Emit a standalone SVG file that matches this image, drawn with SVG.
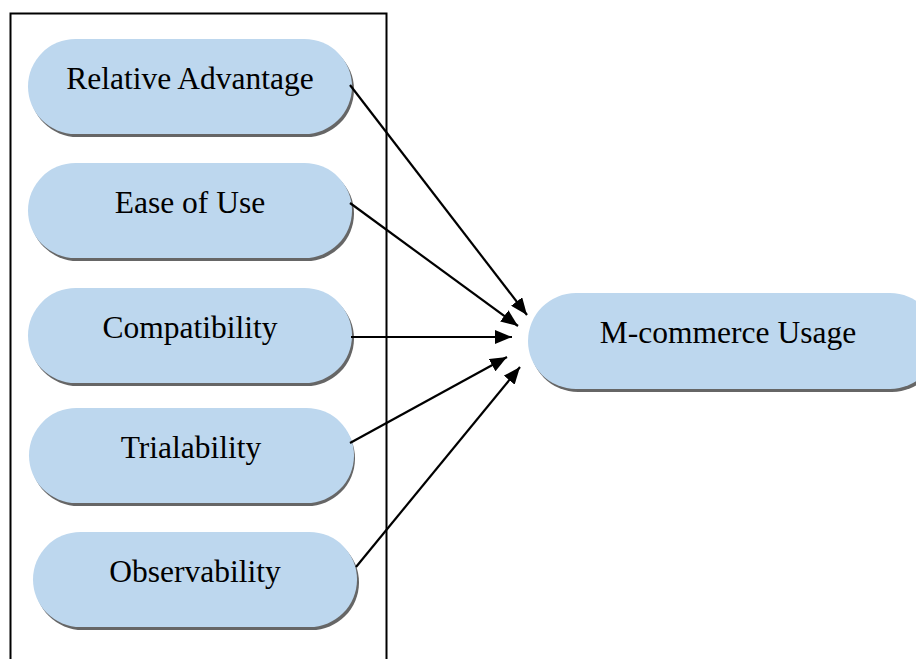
<svg xmlns="http://www.w3.org/2000/svg" width="916" height="659" viewBox="0 0 916 659">
  <style>
    .pill { fill: #bdd7ee; }
    .shadow { fill: #666666; }
    .label { font-family: "Liberation Serif", "Times New Roman", serif; font-size: 31.5px; fill: #000; text-anchor: middle; }
    .edge { stroke: #000; stroke-width: 2.2; fill: none; marker-end: url(#arrow); }
  </style>
  <defs>
    <marker id="arrow" markerUnits="userSpaceOnUse" markerWidth="18" markerHeight="14" refX="17" refY="7" orient="auto">
      <path d="M0,0 L17,7 L0,14 z" fill="#000"/>
    </marker>
  </defs>
  <rect width="916" height="659" fill="#fff"/>

  <!-- enclosing frame (open at the bottom) -->
  <path d="M10.5,662 L10.5,13.5 L386.5,13.5 L386.5,662" fill="none" stroke="#000" stroke-width="2"/>

  <g id="relative-advantage">
    <rect class="shadow" x="30" y="42" width="324" height="95" rx="47.5"/>
    <rect class="pill" x="28" y="39" width="324" height="95" rx="47.5"/>
    <text class="label" x="190" y="89">Relative Advantage</text>
  </g>
  <g id="ease-of-use">
    <rect class="shadow" x="30" y="166" width="324" height="95" rx="47.5"/>
    <rect class="pill" x="28" y="163" width="324" height="95" rx="47.5"/>
    <text class="label" x="190" y="213">Ease of Use</text>
  </g>
  <g id="compatibility">
    <rect class="shadow" x="30" y="291" width="324" height="95" rx="47.5"/>
    <rect class="pill" x="28" y="288" width="324" height="95" rx="47.5"/>
    <text class="label" x="190" y="338">Compatibility</text>
  </g>
  <g id="trialability">
    <rect class="shadow" x="31" y="411" width="324" height="95" rx="47.5"/>
    <rect class="pill" x="29" y="408" width="325" height="95" rx="47.5"/>
    <text class="label" x="191" y="458">Trialability</text>
  </g>
  <g id="observability">
    <rect class="shadow" x="35" y="535" width="324" height="95" rx="47.5"/>
    <rect class="pill" x="33" y="532" width="324" height="95" rx="47.5"/>
    <text class="label" x="195" y="582">Observability</text>
  </g>
  <g id="m-commerce-usage">
    <rect class="shadow" x="530" y="296" width="410" height="96" rx="48"/>
    <rect class="pill" x="528" y="293" width="410" height="96" rx="48"/>
    <text class="label" x="728" y="343">M-commerce Usage</text>
  </g>

  <g id="connectors">
    <path class="edge" d="M350,85 L527,315"/>
    <path class="edge" d="M350,203 L518,326"/>
    <path class="edge" d="M351,337 L512,337"/>
    <path class="edge" d="M350,443 L507,357"/>
    <path class="edge" d="M356,567 L520,367"/>
  </g>
</svg>
